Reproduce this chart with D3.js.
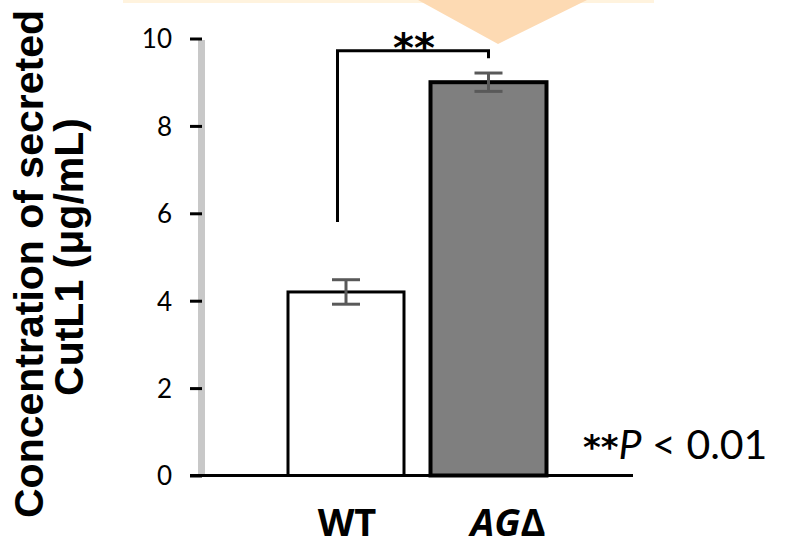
<!DOCTYPE html>
<html>
<head>
<meta charset="utf-8">
<script src="https://cdn.jsdelivr.net/npm/d3@7"></script>
<style>
  html, body { margin: 0; padding: 0; background: #ffffff; }
  svg { display: block; }
</style>
</head>
<body>
<script>
// ---- data ----
const categories = ["WT", "AGΔ"];
const values = [4.2, 9.0];
const errors = [0.28, 0.21];
const barFills = ["#ffffff", "#7f7f7f"];
const yTicks = [0, 2, 4, 6, 8, 10];
const yTitleLines = ["Concentration of secreted", "CutL1 (μg/mL)"];
const sigLabel = "**";
const pNote = ["**", "P", " < 0.01"];
const bracket = { top: 9.72, leftEnd: 5.8, rightEnd: 9.55 };

const W = 789, H = 550;
const svg = d3.select("body").append("svg").attr("width", W).attr("height", H);

// decorative shapes at top (from surrounding slide)
svg.append("rect").attr("x", 123).attr("y", 0).attr("width", 531).attr("height", 3).attr("fill", "#fff3de");
svg.append("path").attr("d", "M418,0 L587,0 L498,44 Z").attr("fill", "#fddab3");

const y = d3.scaleLinear().domain([0, 10]).range([475.5, 38.5]);
const x = d3.scaleBand().domain(categories).range([259.5, 575]).paddingInner(0.186).paddingOuter(0.2);

// gray axis spine
svg.append("line").attr("x1", 201.5).attr("x2", 201.5).attr("y1", y(10) + 1.5).attr("y2", y(0))
  .attr("stroke", "#c8c8c8").attr("stroke-width", 7);

// y axis ticks
const yAxis = d3.axisLeft(y).tickValues(yTicks).tickSize(12).tickPadding(18).tickFormat(d3.format("d"));
const gy = svg.append("g").attr("transform", "translate(202,0)").call(yAxis);
gy.select(".domain").remove();
gy.selectAll(".tick line").attr("stroke", "#000").attr("stroke-width", 3);
gy.selectAll(".tick text").attr("font-family", "Lato, 'Open Sans', sans-serif").attr("font-size", 26)
  .attr("fill", "#000").attr("dy", "0.36em");

// bars
svg.selectAll("rect.bar").data(categories).enter().append("rect").attr("class", "bar")
  .attr("x", d => x(d))
  .attr("width", x.bandwidth())
  .attr("y", (d, i) => y(values[i]))
  .attr("height", (d, i) => y(0) - y(values[i]))
  .attr("fill", (d, i) => barFills[i])
  .attr("stroke", "#000")
  .attr("stroke-width", (d, i) => i === 0 ? 3 : 4);

// baseline
svg.append("line").attr("x1", 190).attr("x2", 633).attr("y1", y(0)).attr("y2", y(0))
  .attr("stroke", "#000").attr("stroke-width", 3);

// error bars
const eb = svg.selectAll("g.err").data(categories).enter().append("g").attr("class", "err")
  .attr("stroke", "#595959").attr("stroke-width", 3);
eb.append("line").attr("x1", d => x(d) + x.bandwidth() / 2).attr("x2", d => x(d) + x.bandwidth() / 2)
  .attr("y1", (d, i) => y(values[i] + errors[i])).attr("y2", (d, i) => y(values[i] - errors[i]));
eb.append("line").attr("x1", d => x(d) + x.bandwidth() / 2 - 14).attr("x2", d => x(d) + x.bandwidth() / 2 + 14)
  .attr("y1", (d, i) => y(values[i] + errors[i])).attr("y2", (d, i) => y(values[i] + errors[i]));
eb.append("line").attr("x1", d => x(d) + x.bandwidth() / 2 - 14).attr("x2", d => x(d) + x.bandwidth() / 2 + 14)
  .attr("y1", (d, i) => y(values[i] - errors[i])).attr("y2", (d, i) => y(values[i] - errors[i]));

// significance bracket
const bx1 = x(categories[0]) + x.bandwidth() / 2 - 8.5;
const bx2 = x(categories[1]) + x.bandwidth() / 2;
svg.append("path")
  .attr("d", `M${bx1},${y(bracket.leftEnd)} L${bx1},${y(bracket.top)} L${bx2},${y(bracket.top)} L${bx2},${y(bracket.rightEnd)}`)
  .attr("fill", "none").attr("stroke", "#000").attr("stroke-width", 3);
svg.append("text").attr("x", 414).attr("y", 62).attr("text-anchor", "middle")
  .attr("font-family", "'DejaVu Sans', sans-serif").attr("font-weight", "bold").attr("font-size", 40)
  .attr("fill", "#000").text(sigLabel);

// x labels
svg.append("text").attr("x", 347).attr("y", 536).attr("text-anchor", "middle")
  .attr("font-family", "'Open Sans', sans-serif").attr("font-weight", "bold").attr("font-size", 38)
  .attr("fill", "#000").text(categories[0]);
const ag = svg.append("text").attr("x", 508).attr("y", 536).attr("text-anchor", "middle")
  .attr("font-family", "'Open Sans', sans-serif").attr("font-weight", "bold").attr("font-size", 38)
  .attr("fill", "#000");
ag.append("tspan").attr("font-style", "italic").text("AG");
ag.append("tspan").text("Δ");

// y title
const titleCenters = [264, 257];
const titleBaselines = [43, 83];
yTitleLines.forEach((t, i) => {
  svg.append("text")
    .attr("transform", `translate(${titleBaselines[i]},${titleCenters[i]}) rotate(-90)`)
    .attr("text-anchor", "middle")
    .attr("font-family", "'Liberation Sans', Arial, sans-serif").attr("font-weight", "bold")
    .attr("font-size", 41).attr("fill", "#000").text(t);
});

// p-value note
const pn = svg.append("text").attr("x", 583).attr("y", 459)
  .attr("font-family", "Lato, 'Open Sans', sans-serif").attr("font-size", 41).attr("fill", "#000");
pn.append("tspan").attr("font-family", "'DejaVu Sans', sans-serif").attr("font-weight", "bold").attr("font-size", 34).text(pNote[0]);
pn.append("tspan").attr("font-style", "italic").text(pNote[1]);
pn.append("tspan").text(pNote[2]);
</script>
</body>
</html>
